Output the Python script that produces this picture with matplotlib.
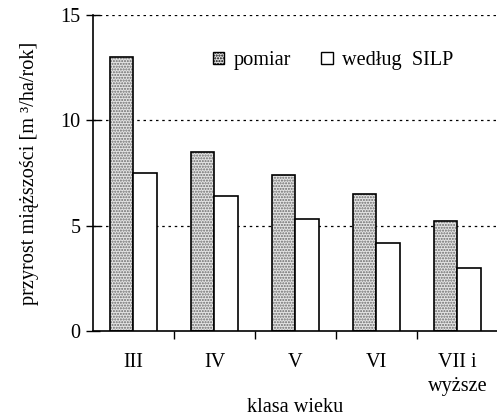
import matplotlib as mpl
import matplotlib.pyplot as plt
import numpy as np

mpl.rcParams['font.family'] = ['Liberation Serif', 'DejaVu Serif']

categories = ['III', 'IV', 'V', 'VI', 'VII i\nwyższe']
pomiar = [13.0, 8.5, 7.4, 6.5, 5.2]
silp = [7.5, 6.4, 5.3, 4.2, 3.0]
y_ticks = [0, 5, 10, 15]

fs = 14.6
fig = plt.figure(figsize=(4.97, 4.15), dpi=100)
ax = fig.add_axes([0.187, 0.2024, 0.815, 0.7615])

x = np.arange(len(categories))
w = 0.29

# stipple fill first, then outline on top
ax.bar(x - w / 2, pomiar, w, color='#e4e4e4', hatch='......', edgecolor='#6a6a6a', linewidth=0, zorder=2)
ax.bar(x - w / 2, pomiar, w, fill=False, edgecolor='black', linewidth=1.2, zorder=3)
ax.bar(x + w / 2, silp, w, color='white', edgecolor='black', linewidth=1.2, zorder=3)

# legend proxies
h1 = mpl.patches.Patch(facecolor='#e4e4e4', hatch='......', edgecolor='black', linewidth=1.0)
h2 = mpl.patches.Patch(facecolor='white', edgecolor='black', linewidth=1.0)
ax.legend([h1, h2], ['pomiar', 'według  SILP'], ncol=2, frameon=False, fontsize=fs,
          handlelength=0.55, handleheight=0.55, handletextpad=0.45, columnspacing=1.5,
          loc='center', bbox_to_anchor=(0.593, 0.855))

ax.set_xlim(-0.5, len(categories) - 0.5)
ax.set_ylim(0, 15)

for v in y_ticks[1:]:
    ax.axhline(v, color='black', linestyle=(0, (2, 3)), linewidth=0.9, zorder=1)

ax.spines['top'].set_visible(False)
ax.spines['right'].set_visible(False)
ax.spines['left'].set_linewidth(1.2)
ax.spines['bottom'].set_linewidth(1.2)

ax.set_yticks(y_ticks)
ax.set_yticklabels([str(v) for v in y_ticks], fontsize=fs)
ax.tick_params(axis='y', direction='inout', length=10, width=1.0, pad=4)

ax.set_xticks(x)
ax.set_xticklabels(categories, fontsize=fs, linespacing=1.35, va='top')
ax.tick_params(axis='x', which='major', length=0, pad=16)
ax.set_xticks(np.arange(0.5, len(categories) - 0.5, 1), minor=True)
ax.tick_params(axis='x', which='minor', direction='out', length=6, width=1.0)

ax.set_xlabel('klasa wieku', fontsize=fs, labelpad=1)
ax.set_ylabel('przyrost miąższości [m ³/ha/rok]', fontsize=fs, labelpad=15)

plt.savefig('out.png', dpi=100)
